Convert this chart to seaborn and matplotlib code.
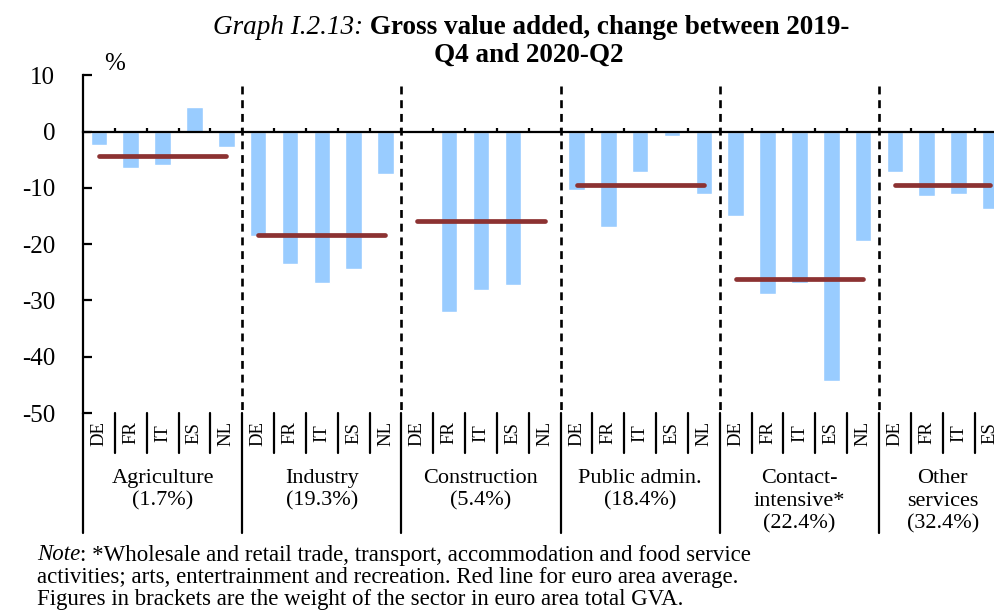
import matplotlib
matplotlib.use("Agg")
import matplotlib.pyplot as plt
import seaborn as sns
import numpy as np
import pandas as pd

# Gross value added, % change 2019-Q4 -> 2020-Q2, by sector and country
sectors = ["Agriculture\n(1.7%)", "Industry\n(19.3%)", "Construction\n(5.4%)",
           "Public admin.\n(18.4%)", "Contact-\nintensive*\n(22.4%)",
           "Other\nservices\n(32.4%)"]
countries = ["DE", "FR", "IT", "ES", "NL"]
agriculture = [-2.4, -6.4, -6.0, 4.3, -2.8]
industry = [-18.6, -23.5, -26.9, -24.5, -7.6]
construction = [0.3, -32.1, -28.1, -27.3, 0.0]
public_admin = [-10.3, -17.0, -7.2, -0.8, -11.1]
contact_intensive = [-15.0, -28.9, -26.9, -44.3, -19.4]
other_services = [-7.2, -11.5, -11.1, -13.8]
euro_area_avg = [-4.4, -18.3, -15.9, -9.5, -26.2, -9.5]
y_ticks = [10, 0, -10, -20, -30, -40, -50]
y_labels = ["10", "0", "-10", "-20", "-30", "-40", "-50"]

series = [agriculture, industry, construction, public_admin,
          contact_intensive, other_services]

rows = []
for s_idx, (sector, vals) in enumerate(zip(sectors, series)):
    for c_idx, v in enumerate(vals):
        rows.append({"slot": f"{s_idx}-{countries[c_idx]}", "sector": sector,
                     "country": countries[c_idx], "value": v})
df = pd.DataFrame(rows)
slots = list(df["slot"])

sns.set_theme(style="white")
plt.rcParams["font.family"] = ["Liberation Serif", "DejaVu Serif"]
plt.rcParams["axes.unicode_minus"] = False
plt.rcParams["text.color"] = "black"
plt.rcParams["ytick.color"] = "black"
plt.rcParams["xtick.color"] = "black"

W, H = 995, 612
fig = plt.figure(figsize=(W / 100, H / 100), dpi=100)

# axes geometry (pixels from top-left)
ax_left, ax_right = 83, 995
ax_top, ax_bottom = 75.3, 413
ax = fig.add_axes([ax_left / W, 1 - ax_bottom / H,
                   (ax_right - ax_left) / W, (ax_bottom - ax_top) / H])
ax_h = ax_bottom - ax_top

sns.barplot(data=df, x="slot", y="value", order=slots, color="#99CCFF",
            saturation=1, width=0.52, errorbar=None, ax=ax, zorder=2)

n_slots = len(slots)
slot_w = 31.84
ax.set_xlim(-0.5, (ax_right - ax_left) / slot_w - 0.5)
ax.set_ylim(-50, 10)
ax.set_xlabel("")
ax.set_ylabel("")

for side in ["top", "right"]:
    ax.spines[side].set_visible(False)
ax.spines["left"].set_color("black")
ax.spines["left"].set_linewidth(1.6)
ax.spines["bottom"].set_position(("data", 0))
ax.spines["bottom"].set_color("black")
ax.spines["bottom"].set_linewidth(1.6)
ax.spines["bottom"].set_zorder(4)

ax.set_yticks(y_ticks)
ax.set_yticklabels(y_labels, fontsize=18, color="black")
ax.tick_params(axis="y", direction="in", length=6.5, width=1.6, color="black",
               pad=20, left=True)
ax.set_xticks(np.arange(n_slots - 1) + 0.5)
ax.tick_params(axis="x", direction="in", length=3, width=1.6, color="black",
               labelbottom=False, bottom=True)

# group boundaries and euro area averages
starts = np.cumsum([0] + [len(v) for v in series])
tr = ax.get_xaxis_transform()
for g, vals in enumerate(series):
    x0, x1 = starts[g], starts[g + 1] - 1
    ax.plot([x0, x1], [euro_area_avg[g]] * 2, color="#8C3232", lw=3.4,
            solid_capstyle="round", zorder=5)
    if g > 0:
        xb = starts[g] - 0.5
        ax.plot([xb, xb], [8.1, -50], color="black", lw=1.9,
                dashes=(3, 2.2), zorder=3, clip_on=False)
        ax.plot([xb, xb], [0, -(533 - ax_bottom) / ax_h], color="black",
                lw=1.6, transform=tr, clip_on=False)
    # sector label
    ax.text((x0 + x1) / 2, -(469 - ax_bottom) / ax_h, sectors[g],
            transform=tr, ha="center", va="top", fontsize=16,
            linespacing=1.25, clip_on=False, color="black")
    # country separators and labels
    for k in range(len(vals)):
        xs = x0 + k
        ax.text(xs, -(433 - ax_bottom) / ax_h, countries[k], transform=tr,
                rotation=90, ha="center", va="center", fontsize=13.5,
                clip_on=False, color="black")
        if k < len(vals) - 1:
            ax.plot([xs + 0.5] * 2, [0, -(453 - ax_bottom) / ax_h],
                    color="black", lw=1.6, transform=tr, clip_on=False)

# left frame line running through the label area
ax.plot([-0.5, -0.5], [0, -(533 - ax_bottom) / ax_h], color="black", lw=1.6,
        transform=tr, clip_on=False)

fig.text(115 / W, 1 - 64 / H, "%", fontsize=18, ha="center", va="center")

# title: italic prefix followed by bold text, centred as one line
fig.canvas.draw()
r = fig.canvas.get_renderer()
t1 = fig.text(0, 1 - 28 / H, "Graph I.2.13:", style="italic", fontsize=19.5,
              va="center", ha="left")
t2 = fig.text(0, 1 - 28 / H, " Gross value added, change between 2019-",
              weight="bold", fontsize=19.5, va="center", ha="left")
w1 = t1.get_window_extent(r).width
w2 = t2.get_window_extent(r).width
x0 = 531 - (w1 + w2) / 2
t1.set_x(x0 / W)
t2.set_x((x0 + w1) / W)
fig.text(529 / W, 1 - 55 / H, "Q4 and 2020-Q2", weight="bold", fontsize=19.5,
         va="center", ha="center")

# note under the chart
note_fs = 16.5
n1 = fig.text(37 / W, 1 - 555 / H, "Note", style="italic", fontsize=note_fs,
              va="center", ha="left")
wn = n1.get_window_extent(r).width
fig.text((37 + wn) / W, 1 - 555 / H,
         ": *Wholesale and retail trade, transport, accommodation and food service",
         fontsize=note_fs, va="center", ha="left")
fig.text(37 / W, 1 - 577.5 / H,
         "activities; arts, entertrainment and recreation. Red line for euro area average.",
         fontsize=note_fs, va="center", ha="left")
fig.text(37 / W, 1 - 600 / H,
         "Figures in brackets are the weight of the sector in euro area total GVA.",
         fontsize=note_fs, va="center", ha="left")

fig.savefig("out.png", dpi=100)
